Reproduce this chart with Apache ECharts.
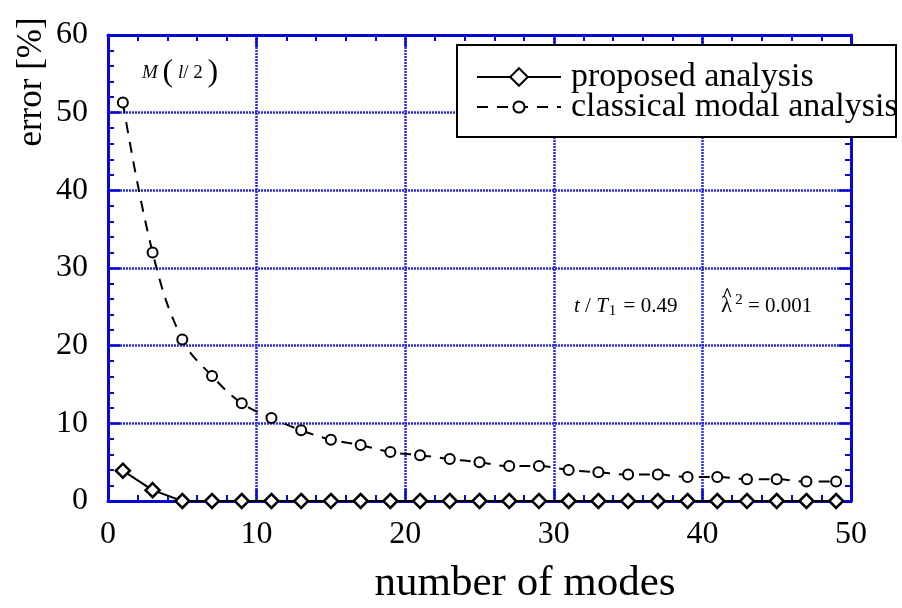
<!DOCTYPE html>
<html>
<head>
<meta charset="utf-8">
<script src="https://cdn.jsdelivr.net/npm/echarts@6/dist/echarts.min.js"></script>
<style>
  html, body { margin: 0; padding: 0; background: #ffffff; }
  #chart { width: 902px; height: 608px; }
</style>
</head>
<body>
<div id="chart"></div>
<script>
// number of modes retained in the expansion
const modes = [1, 3, 5, 7, 9, 11, 13, 15, 17, 19, 21, 23, 25, 27, 29, 31, 33, 35, 37, 39, 41, 43, 45, 47, 49];
// error [%] of the proposed analysis
const proposed = [3.9, 1.4, 0, 0, 0, 0, 0, 0, 0, 0, 0, 0, 0, 0, 0, 0, 0, 0, 0, 0, 0, 0, 0, 0, 0];
// error [%] of the classical modal analysis
const classical = [51.3, 32.0, 20.8, 16.1, 12.6, 10.7, 9.1, 7.9, 7.2, 6.3, 5.9, 5.4, 5.0, 4.5, 4.5, 4.0, 3.7, 3.4, 3.4, 3.1, 3.1, 2.8, 2.8, 2.5, 2.5];
const seriesNames = ['proposed analysis', 'classical modal analysis'];

const SERIF = '"Liberation Serif", "DejaVu Serif", serif';
const BLUE = '#0808d4';
const GRID_BLUE = '#2a2ade';

const pair = (xs, ys) => xs.map((x, i) => [x, ys[i]]);

function frameAxis(extra) {
  return Object.assign({
    type: 'value',
    axisLine: { show: true, onZero: false, lineStyle: { color: BLUE, width: 3 } },
    axisTick: { show: true, inside: true, length: 12, lineStyle: { color: BLUE, width: 2.5 } },
    minorTick: { show: true, splitNumber: 5, length: 6, lineStyle: { color: BLUE, width: 2 } },
    splitLine: { show: false },
    axisLabel: { show: false }
  }, extra);
}

const labelStyle = { color: '#000', fontFamily: SERIF, fontSize: 32 };
const gridLine = { show: true, lineStyle: { color: GRID_BLUE, width: 2.5, type: [2, 1] } };

const chart = echarts.init(document.getElementById('chart'), null, { renderer: 'canvas' });

chart.setOption({
  animation: false,
  backgroundColor: '#ffffff',
  grid: { left: 108, right: 51, top: 35, bottom: 107, containLabel: false },
  xAxis: [
    frameAxis({ position: 'bottom', min: 0, max: 50, interval: 10,
      splitLine: gridLine,
      axisLabel: Object.assign({ show: true, margin: 18 }, labelStyle) }),
    frameAxis({ position: 'top', min: 0, max: 50, interval: 10 })
  ],
  yAxis: [
    frameAxis({ position: 'left', min: 0, max: 60, interval: 10,
      splitLine: gridLine,
      axisLabel: Object.assign({ show: true, margin: 20 }, labelStyle) }),
    frameAxis({ position: 'right', min: 0, max: 60, interval: 10 })
  ],
  legend: [
    {
      data: [seriesNames[0]], orient: 'vertical', left: 476, top: 60, padding: 0,
      itemWidth: 84, itemHeight: 22, z: 20,
      textStyle: { color: '#000', fontFamily: SERIF, fontSize: 34, lineHeight: 34, padding: [0, 0, 0, 5] }
    },
    {
      data: [seriesNames[1]], orient: 'vertical', left: 476, top: 90, padding: 0,
      itemWidth: 84, itemHeight: 14, z: 20,
      textStyle: { color: '#000', fontFamily: SERIF, fontSize: 34, lineHeight: 34, padding: [0, 0, 0, 5] }
    }
  ],
  series: [
    {
      name: seriesNames[0], type: 'line', data: pair(modes, proposed),
      symbol: 'diamond', symbolSize: 14, clip: false, z: 5,
      lineStyle: { color: '#000', width: 2 },
      itemStyle: { color: '#ffffff', borderColor: '#000', borderWidth: 2.5 }
    },
    {
      name: seriesNames[1], type: 'line', data: pair(modes, classical),
      symbol: 'circle', symbolSize: 10, smooth: 0.4, clip: false, z: 4,
      lineStyle: { color: '#000', width: 2, type: [11, 9] },
      itemStyle: { color: '#ffffff', borderColor: '#000', borderWidth: 2 }
    }
  ],
  graphic: [
    // legend frame
    { type: 'rect', z: 10, shape: { x: 457, y: 45, width: 439, height: 92 },
      style: { fill: '#ffffff', stroke: '#000', lineWidth: 2 } },
    // axis titles
    { type: 'text', x: 32, y: 82, rotation: Math.PI / 2, z: 10,
      style: { text: 'error [%]', fill: '#000', font: '35px ' + SERIF, align: 'center', verticalAlign: 'middle' } },
    { type: 'text', x: 525, y: 584, z: 10,
      style: { text: 'number of modes', fill: '#000', font: '43px ' + SERIF, align: 'center', verticalAlign: 'middle' } },
    // M(l/2)
    { type: 'text', x: 142, y: 73, z: 10,
      style: {
        text: '{i|M }{p|(}{i| l}{n|/ 2 }{p|)}', verticalAlign: 'middle', fill: '#000',
        rich: {
          i: { fontFamily: SERIF, fontStyle: 'italic', fontSize: 19, fill: '#000' },
          n: { fontFamily: SERIF, fontSize: 19, fill: '#000' },
          p: { fontFamily: SERIF, fontSize: 32, fill: '#000' }
        }
      } },
    // t / T1 = 0.49
    { type: 'text', x: 574, y: 306, z: 10,
      style: {
        text: '{i|t}{n| / }{i|T}{s|1}{n| = 0.49}', verticalAlign: 'middle', fill: '#000',
        rich: {
          i: { fontFamily: SERIF, fontStyle: 'italic', fontSize: 21, fill: '#000' },
          n: { fontFamily: SERIF, fontSize: 21, fill: '#000' },
          s: { fontFamily: SERIF, fontSize: 15, fill: '#000', padding: [11, 2, 0, 1] }
        }
      } },
    // lambda-hat squared
    { type: 'text', x: 721, y: 306, z: 10,
      style: {
        text: '{l|\u03bb}{s|2}{n| = 0.001}', verticalAlign: 'middle', fill: '#000',
        rich: {
          l: { fontFamily: SERIF, fontSize: 23, fill: '#000' },
          n: { fontFamily: SERIF, fontSize: 21, fill: '#000' },
          s: { fontFamily: SERIF, fontSize: 15, fill: '#000', padding: [0, 0, 11, 3] }
        }
      } },
    { type: 'text', x: 722, y: 287, z: 10,
      style: { text: '^', fill: '#000', font: 'bold 18px ' + SERIF } }
  ]
});
</script>
</body>
</html>
